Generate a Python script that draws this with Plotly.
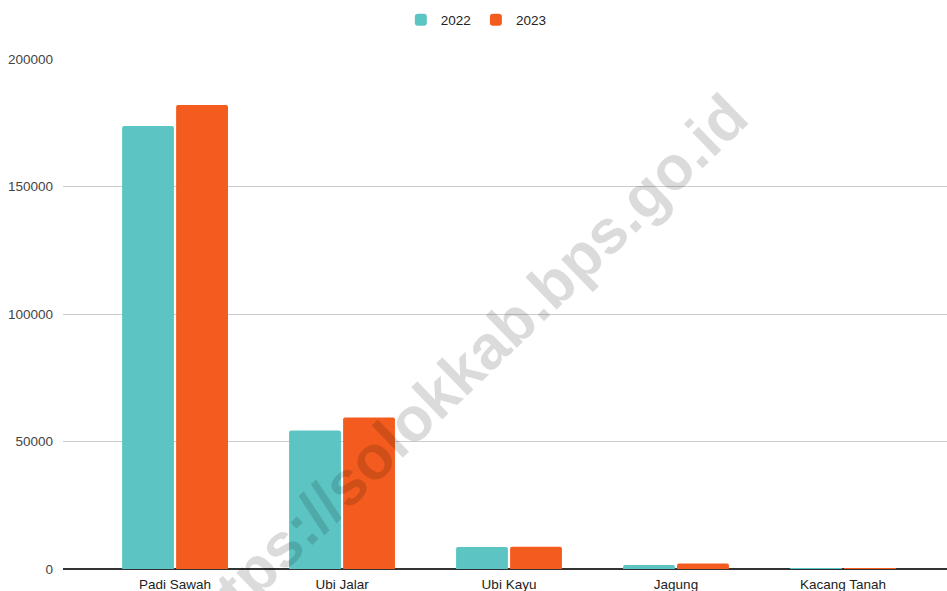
import plotly.graph_objects as go

categories = ["Padi Sawah", "Ubi Jalar", "Ubi Kayu", "Jagung", "Kacang Tanah"]
values_2022 = [173700, 54300, 8650, 1600, 120]
values_2023 = [181950, 59400, 8700, 2200, 95]
series_names = ["2022", "2023"]
colors = ["#5cc5c4", "#f35c1e"]
y_ticks = [0, 50000, 100000, 150000, 200000]

fig = go.Figure()
for name, vals, col in zip(series_names, [values_2022, values_2023], colors):
    fig.add_trace(go.Bar(name=name, x=categories, y=vals, marker=dict(color=col, line=dict(width=0))))

W, H = 947, 591
L, R, T, B = 63, 0, 59, 22
fig.update_layout(
    width=W, height=H,
    margin=dict(l=L, r=R, t=T, b=B, pad=0),
    paper_bgcolor="white", plot_bgcolor="white",
    font=dict(family="Liberation Sans, Arial, sans-serif", size=13.5, color="#222"),
    barmode="group", bargap=0.353, bargroupgap=0.04, barcornerradius=2,
    showlegend=True,
    legend=dict(orientation="h", xref="container", yref="container", x=0.503, y=1 - 20 / H,
                xanchor="center", yanchor="middle", font=dict(size=13.5, color="#222"),
                itemwidth=30, tracegroupgap=0),
    xaxis=dict(type="category", range=[-0.671, 4.623], showgrid=False, showline=False,
               ticks="", ticklabelstandoff=5, tickfont=dict(size=13.5, color="#222"),
               fixedrange=True),
    yaxis=dict(range=[0, 200000], tickvals=y_ticks, ticktext=[str(v) for v in y_ticks],
               showgrid=True, gridcolor="#cccccc", gridwidth=1,
               zeroline=True, zerolinecolor="#333333", zerolinewidth=1.5,
               showline=False, ticks="", ticklabelstandoff=9,
               tickfont=dict(size=13.5, color="#444"), fixedrange=True),
)

fig.add_annotation(
    text="<b>https://solokkab.bps.go.id</b>",
    xref="paper", yref="paper",
    x=(460 - L) / (W - L - R), y=(H - B - 372) / (H - T - B),
    xanchor="center", yanchor="middle",
    textangle=-44, showarrow=False,
    font=dict(family="Liberation Sans, Arial, sans-serif", size=62, color="rgba(0,0,0,0.14)"),
)

fig.write_html("out.html", config={"displayModeBar": False},
               post_script="document.body.style.margin='0';document.body.style.overflow='hidden';")
